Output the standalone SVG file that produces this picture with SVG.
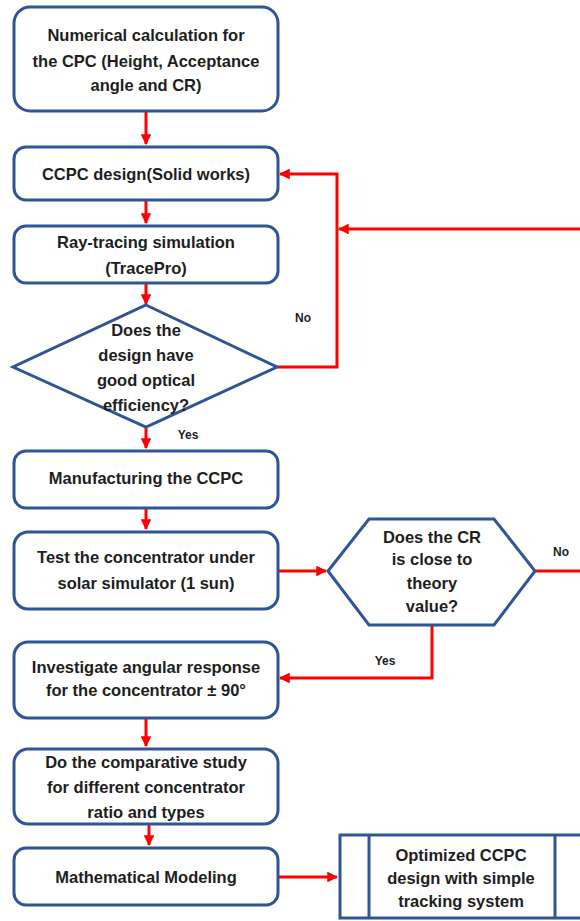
<svg xmlns="http://www.w3.org/2000/svg" width="580" height="921" viewBox="0 0 580 921">
  <defs>
    <marker id="arrow" viewBox="0 0 10 10" refX="9" refY="5" markerWidth="3.6" markerHeight="3.6" orient="auto" markerUnits="strokeWidth">
      <path d="M0,0 L10,5 L0,10 z" fill="#FF0000"/>
    </marker>
    <style>
      .box { fill: #FFFFFF; stroke: #2F5597; stroke-width: 3; }
      .txt { font-family: "Liberation Sans", Arial, sans-serif; font-weight: bold; font-size: 16.5px; fill: #1E1E1E; text-anchor: middle; }
      .lbl { font-family: "Liberation Sans", Arial, sans-serif; font-weight: bold; font-size: 12px; fill: #1E1E1E; text-anchor: middle; }
      .link { fill: none; stroke: #FF0000; stroke-width: 3; }
      .arr { marker-end: url(#arrow); }
    </style>
  </defs>
  <rect width="580" height="921" fill="#FFFFFF"/>

  <!-- connectors -->
  <g id="connectors">
    <path class="link arr" d="M146,111 V144"/>
    <path class="link arr" d="M146,200 V223"/>
    <path class="link arr" d="M146,283 V304"/>
    <path class="link arr" d="M146,427 V448"/>
    <path class="link arr" d="M146,508 V529"/>
    <path class="link arr" d="M146,718 V746"/>
    <path class="link arr" d="M149,824 V845"/>
    <!-- No: back to design -->
    <path class="link arr" d="M277,367 H337 V174 H280"/>
    <!-- No from CR check, returning along the top -->
    <path class="link arr" d="M580,229 H339"/>
    <path class="link" d="M535,571 H580"/>
    <path class="link arr" d="M278,571 H326"/>
    <!-- Yes: angular response -->
    <path class="link arr" d="M432,625 V678 H280"/>
    <path class="link arr" d="M278,877 H337"/>
    <text class="lbl" x="303" y="322">No</text>
    <text class="lbl" x="188" y="439">Yes</text>
    <text class="lbl" x="561" y="556">No</text>
    <text class="lbl" x="385" y="665">Yes</text>
  </g>

  <g id="numerical">
    <rect class="box" x="14" y="7" width="264" height="104" rx="16"/>
    <text class="txt" x="146" y="41">Numerical calculation for</text>
    <text class="txt" x="146" y="67">the CPC (Height, Acceptance</text>
    <text class="txt" x="146" y="91">angle and CR)</text>
  </g>

  <g id="design">
    <rect class="box" x="14" y="147" width="264" height="53" rx="12"/>
    <text class="txt" x="146" y="180">CCPC design(Solid works)</text>
  </g>

  <g id="raytracing">
    <rect class="box" x="14" y="226" width="264" height="57" rx="12"/>
    <text class="txt" x="146" y="248">Ray-tracing simulation</text>
    <text class="txt" x="146" y="274">(TracePro)</text>
  </g>

  <g id="efficiency">
    <polygon class="box" points="146,305 277,367 146,427 13,367"/>
    <text class="txt" x="146" y="336">Does the</text>
    <text class="txt" x="146" y="361">design have</text>
    <text class="txt" x="146" y="386">good optical</text>
    <text class="txt" x="146" y="411">efficiency?</text>
  </g>

  <g id="manufacturing">
    <rect class="box" x="14" y="451" width="264" height="57" rx="12"/>
    <text class="txt" x="146" y="484">Manufacturing the CCPC</text>
  </g>

  <g id="test">
    <rect class="box" x="14" y="532" width="264" height="77" rx="14"/>
    <text class="txt" x="146" y="563">Test the concentrator under</text>
    <text class="txt" x="146" y="589">solar simulator (1 sun)</text>
  </g>

  <g id="crcheck">
    <polygon class="box" points="328,571 369,519 494,519 535,571 494,625 369,625"/>
    <text class="txt" x="432" y="543">Does the CR</text>
    <text class="txt" x="432" y="565">is close to</text>
    <text class="txt" x="432" y="589">theory</text>
    <text class="txt" x="432" y="612">value?</text>
  </g>

  <g id="angular">
    <rect class="box" x="14" y="642" width="264" height="76" rx="14"/>
    <text class="txt" x="146" y="673">Investigate angular response</text>
    <text class="txt" x="146" y="696">for the concentrator ± 90°</text>
  </g>

  <g id="comparative">
    <rect class="box" x="14" y="749" width="264" height="75" rx="14"/>
    <text class="txt" x="146" y="768">Do the comparative study</text>
    <text class="txt" x="146" y="793">for different concentrator</text>
    <text class="txt" x="146" y="818">ratio and types</text>
  </g>

  <g id="modeling">
    <rect class="box" x="14" y="848" width="264" height="57" rx="12"/>
    <text class="txt" x="146" y="883">Mathematical Modeling</text>
  </g>

  <g id="optimized">
    <rect class="box" x="340" y="835" width="250" height="83"/>
    <line class="box" x1="369" y1="835" x2="369" y2="918"/>
    <line class="box" x1="555" y1="835" x2="555" y2="918"/>
    <text class="txt" x="461" y="861">Optimized CCPC</text>
    <text class="txt" x="461" y="884">design with simple</text>
    <text class="txt" x="461" y="907">tracking system</text>
  </g>
</svg>
